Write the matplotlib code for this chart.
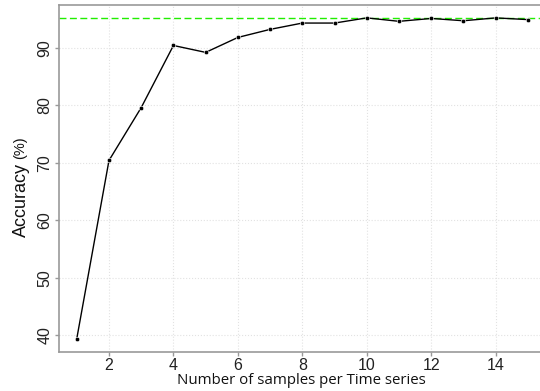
import matplotlib
matplotlib.use("Agg")
import matplotlib.pyplot as plt

# donnees
n_samples = [1, 2, 3, 4, 5, 6, 7, 8, 9, 10, 11, 12, 13, 14, 15]
accuracy = [39.4, 70.4, 79.6, 90.4, 89.2, 91.8, 93.2, 94.3, 94.3, 95.2, 94.6, 95.1, 94.7, 95.2, 94.9]
ref_accuracy = 95.15
x_ticks = [2, 4, 6, 8, 10, 12, 14]
y_ticks = [40, 50, 60, 70, 80, 90]

fig = plt.figure(figsize=(5.4, 3.91), dpi=100)
# l'axe deborde a droite (figure rognee)
ax = fig.add_axes([58.7 / 540, 39.3 / 391, (546 - 58.7) / 540, (351.7 - 5) / 391])

ax.grid(True, color="#e2e2e2", linestyle=":", linewidth=0.8)
ax.set_axisbelow(True)

ax.axhline(ref_accuracy, color="#22ee00", linestyle=(0, (5, 2.5)), linewidth=1.0, zorder=2)
ax.plot(n_samples, accuracy, color="black", linewidth=1.0, marker="o",
        markersize=3.2, markerfacecolor="black", markeredgecolor="white",
        markeredgewidth=0.4, zorder=3)

ax.set_xlim(0.44, 15.56)
ax.set_ylim(37.15, 97.44)
ax.set_xticks(x_ticks)
ax.set_yticks(y_ticks)

for s in ["left", "bottom", "top"]:
    ax.spines[s].set_color("#999999")
    ax.spines[s].set_linewidth(1.2)
ax.spines["right"].set_visible(False)

ax.tick_params(axis="both", color="#999999", length=3, width=1.0,
               labelsize=11.5, labelcolor="#222222", pad=1.5)
for lab in ax.get_xticklabels() + ax.get_yticklabels():
    lab.set_fontfamily("Liberation Sans")
for lab in ax.get_yticklabels():
    lab.set_rotation(90)
    lab.set_va("center")

fig.text(301 / 540, 1 - 384 / 391, "Number of samples per Time series",
         ha="center", va="baseline", fontsize=10.8, family="Open Sans", color="#111111")

# label y : "Accuracy" + "(%)" plus petit
fig.text(21 / 540, 1 - 237 / 391, "Accuracy", rotation=90, ha="center", va="bottom",
         fontsize=13, family="Liberation Sans", color="#111111")
fig.text(20 / 540, 1 - 159 / 391, "(%)", rotation=90, ha="center", va="bottom",
         fontsize=10.5, family="Liberation Sans", color="#111111")

fig.savefig("out.png", dpi=100)
